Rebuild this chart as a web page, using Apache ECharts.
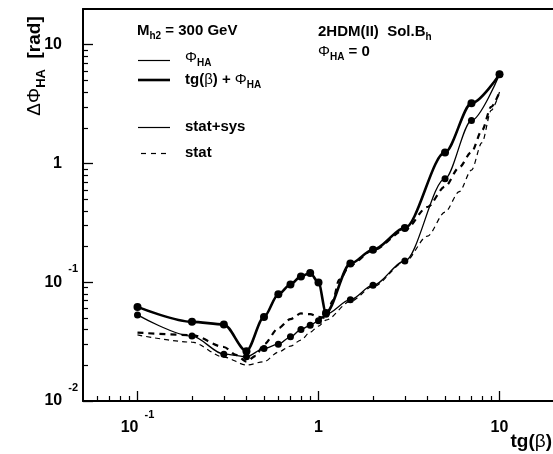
<!DOCTYPE html>
<html><head><meta charset="utf-8">
<script src="https://cdn.jsdelivr.net/npm/echarts@6/dist/echarts.min.js"></script>
<style>html,body{margin:0;padding:0;background:#fff}#c{width:553px;height:454px}</style>
</head><body><div id="c"></div>
<script>
// ---- data ----
const xMarks = [0.1, 0.2, 0.3, 0.4, 0.5, 0.6, 0.7, 0.8, 0.9, 1.0, 1.1, 1.5, 2, 3, 5, 7, 10];
const phiSys = [0.0531, 0.0352, 0.0248, 0.0236, 0.0277, 0.0301, 0.0347, 0.0400, 0.0434, 0.0473, 0.0538, 0.0713, 0.0944, 0.151, 0.745, 2.30, 5.63];
const tgPhiSys = [0.062, 0.0464, 0.0441, 0.0263, 0.051, 0.0793, 0.0957, 0.112, 0.1198, 0.0994, 0.0552, 0.1436, 0.188, 0.286, 1.24, 3.21, 5.63];
const xStatPhi = [0.1, 0.2, 0.3, 0.4, 0.5, 0.6, 0.7, 0.8, 0.9, 1.0, 1.1, 1.5, 2, 3, 4, 5, 6, 7, 8, 9, 10];
const phiStat = [0.036, 0.0313, 0.0234, 0.0201, 0.0214, 0.0258, 0.029, 0.0326, 0.038, 0.0427, 0.048, 0.069, 0.092, 0.148, 0.245, 0.39, 0.58, 0.88, 1.5, 2.8, 4.0];
const xStatTg = [0.1, 0.2, 0.3, 0.35, 0.4, 0.45, 0.5, 0.6, 0.7, 0.8, 0.9, 1.0, 1.1, 1.2, 1.3, 1.5, 2, 3, 4, 5, 6, 7, 8, 9, 10];
const tgStat = [0.0377, 0.0359, 0.0285, 0.0245, 0.0215, 0.024, 0.030, 0.041, 0.049, 0.0546, 0.0538, 0.0511, 0.050, 0.07, 0.105, 0.14, 0.186, 0.275, 0.43, 0.64, 0.93, 1.25, 1.9, 3.0, 4.0];
const xMajor = [0.1, 1, 10];
const xMinor = [0.06, 0.07, 0.08, 0.09, 0.2, 0.3, 0.4, 0.5, 0.6, 0.7, 0.8, 0.9, 2, 3, 4, 5, 6, 7, 8, 9];
const yMajor = [0.01, 0.1, 1, 10];
const yMinor = [0.02, 0.03, 0.04, 0.05, 0.06, 0.07, 0.08, 0.09, 0.2, 0.3, 0.4, 0.5, 0.6, 0.7, 0.8, 0.9, 2, 3, 4, 5, 6, 7, 8, 9];

const FF = '"Liberation Sans", Arial, Helvetica, sans-serif';
const chart = echarts.init(document.getElementById('c'), null, {renderer: 'canvas'});
const pairs = (xs, ys) => xs.map((x, i) => [x, ys[i]]);
const expOf = v => Math.round(Math.log10(v));

const labRich = {
  b: {fontSize: 16, fontWeight: 'bold', fontFamily: FF, color: '#000', lineHeight: 37, verticalAlign: 'middle'},
  sup: {fontSize: 11, fontWeight: 'bold', fontFamily: FF, color: '#000', lineHeight: 11, padding: [0, 0, 26, 6], verticalAlign: 'middle'},
  sp: {fontSize: 11, fontFamily: FF, width: 16, lineHeight: 11, verticalAlign: 'middle'}
};
function xFmt(v) {
  const e = expOf(v);
  if (e === 0) return '{b|1}';
  if (e === 1) return '{b|10}';
  return '{b|10}{sup|' + e + '}';
}
function yFmt(v) {
  const e = expOf(v);
  if (e === 0) return '{b|1}{sp| }';
  if (e === 1) return '{b|10}{sp| }';
  return '{b|10}{sup|' + e + '}';
}
const XMIN = 0.05, XMAX = 20, YMIN = 0.01, YMAX = 20;
const blk = '#000';

const txtRich = {
  m: {fontSize: 15, fontWeight: 'bold', fontFamily: FF, fill: blk, verticalAlign: 'middle'},
  s: {fontSize: 10, fontWeight: 'bold', fontFamily: FF, fill: blk, padding: [11, 0, 0, 0], verticalAlign: 'middle'},
  g: {fontSize: 15, fontWeight: 'normal', fontFamily: FF, fill: blk, verticalAlign: 'middle'},
  t: {fontSize: 19, fontWeight: 'bold', fontFamily: FF, fill: blk, verticalAlign: 'middle'},
  tg: {fontSize: 19, fontWeight: 'normal', fontFamily: FF, fill: blk, verticalAlign: 'middle'},
  ts: {fontSize: 13, fontWeight: 'bold', fontFamily: FF, fill: blk, padding: [13, 0, 0, 0], verticalAlign: 'middle'}
};
function T(x, y, text, extra) {
  return Object.assign({type: 'text', x: x, y: y, silent: true,
    style: {text: text, rich: txtRich, align: 'left', verticalAlign: 'middle', fill: blk, fontFamily: FF}}, extra || {});
}
function L(x1, x2, y, w, dash) {
  return {type: 'line', silent: true, shape: {x1: x1, y1: y, x2: x2, y2: y},
    style: {stroke: blk, lineWidth: w, lineDash: dash || null}};
}

const option = {
  animation: false,
  backgroundColor: '#fff',
  grid: {left: 83, top: 9, width: 471, height: 392, containLabel: false, outerBoundsMode: 'none', show: false},
  xAxis: [
    {type: 'log', logBase: 10, min: XMIN, max: XMAX, position: 'bottom',
      axisLine: {show: true, onZero: false, lineStyle: {color: blk, width: 2}},
      axisTick: {show: true, inside: true, length: 10, customValues: xMajor, lineStyle: {color: blk, width: 1.3}},
      axisLabel: {show: true, customValues: xMajor, margin: 8, formatter: xFmt, rich: labRich, hideOverlap: false},
      splitLine: {show: false}, minorTick: {show: false}},
    {type: 'log', logBase: 10, min: XMIN, max: XMAX, position: 'bottom',
      axisLine: {show: false, onZero: false},
      axisTick: {show: true, inside: true, length: 5, customValues: xMinor, lineStyle: {color: blk, width: 1.2}},
      axisLabel: {show: false}, splitLine: {show: false}},
    {type: 'log', logBase: 10, min: XMIN, max: XMAX, position: 'top',
      axisLine: {show: true, onZero: false, lineStyle: {color: blk, width: 2}},
      axisTick: {show: false}, axisLabel: {show: false}, splitLine: {show: false}}
  ],
  yAxis: [
    {type: 'log', logBase: 10, min: YMIN, max: YMAX, position: 'left',
      axisLine: {show: true, onZero: false, lineStyle: {color: blk, width: 2}},
      axisTick: {show: true, inside: true, length: 10, customValues: yMajor, lineStyle: {color: blk, width: 1.3}},
      axisLabel: {show: true, customValues: yMajor, margin: 5, formatter: yFmt, rich: labRich, hideOverlap: false},
      splitLine: {show: false}, minorTick: {show: false}},
    {type: 'log', logBase: 10, min: YMIN, max: YMAX, position: 'left',
      axisLine: {show: false, onZero: false},
      axisTick: {show: true, inside: true, length: 5, customValues: yMinor, lineStyle: {color: blk, width: 1.2}},
      axisLabel: {show: false}, splitLine: {show: false}}
  ],
  series: [
    {name: 'stat phi', type: 'line', xAxisIndex: 0, yAxisIndex: 0, data: pairs(xStatPhi, phiStat),
      symbol: 'none', smooth: 0.3, smoothMonotone: 'x', silent: true, z: 2,
      lineStyle: {color: blk, width: 1.2, type: [5, 4]}},
    {name: 'stat tg', type: 'line', xAxisIndex: 0, yAxisIndex: 0, data: pairs(xStatTg, tgStat),
      symbol: 'none', smooth: 0.3, smoothMonotone: 'x', silent: true, z: 3,
      lineStyle: {color: blk, width: 2.2, type: [6, 5]}},
    {name: 'sys phi', type: 'line', xAxisIndex: 0, yAxisIndex: 0, data: pairs(xMarks, phiSys),
      symbol: 'circle', symbolSize: 7, smooth: 0.3, smoothMonotone: 'x', silent: true, z: 4,
      itemStyle: {color: blk}, lineStyle: {color: blk, width: 1.3}},
    {name: 'sys tg', type: 'line', xAxisIndex: 0, yAxisIndex: 0, data: pairs(xMarks, tgPhiSys),
      symbol: 'circle', symbolSize: 8, smooth: 0.3, smoothMonotone: 'x', silent: true, z: 5,
      itemStyle: {color: blk}, lineStyle: {color: blk, width: 2.6}}
  ],
  graphic: [
    T(137, 31, '{m|M}{s|h2}{m| = 300 GeV}'),
    L(138, 170, 60.5, 1.2),
    T(185, 58, '{g|Φ}{s|HA}'),
    L(138, 170, 80, 2.6),
    T(185, 80, '{m|tg(}{g|β}{m|) + }{g|Φ}{s|HA}'),
    L(138, 170, 127.5, 1.2),
    T(185, 127, '{m|stat+sys}'),
    L(141, 170, 153.5, 1.2, [5, 5]),
    T(185, 153, '{m|stat}'),
    T(318, 32, '{m|2HDM(II)  Sol.B}{s|h}'),
    T(318, 52, '{g|Φ}{s|HA}{m| = 0}'),
    T(552, 442, '{t|tg(}{tg|β}{t|)}', {style: {text: '{t|tg(}{tg|β}{t|)}', rich: txtRich, align: 'right', verticalAlign: 'middle'}}),
    T(35, 66, '{tg|ΔΦ}{ts|HA}{t|  [rad]}', {rotation: Math.PI / 2, style: {text: '{tg|ΔΦ}{ts|HA}{t|  [rad]}', rich: txtRich, align: 'center', verticalAlign: 'middle'}})
  ]
};
chart.setOption(option);
</script>
</body></html>
